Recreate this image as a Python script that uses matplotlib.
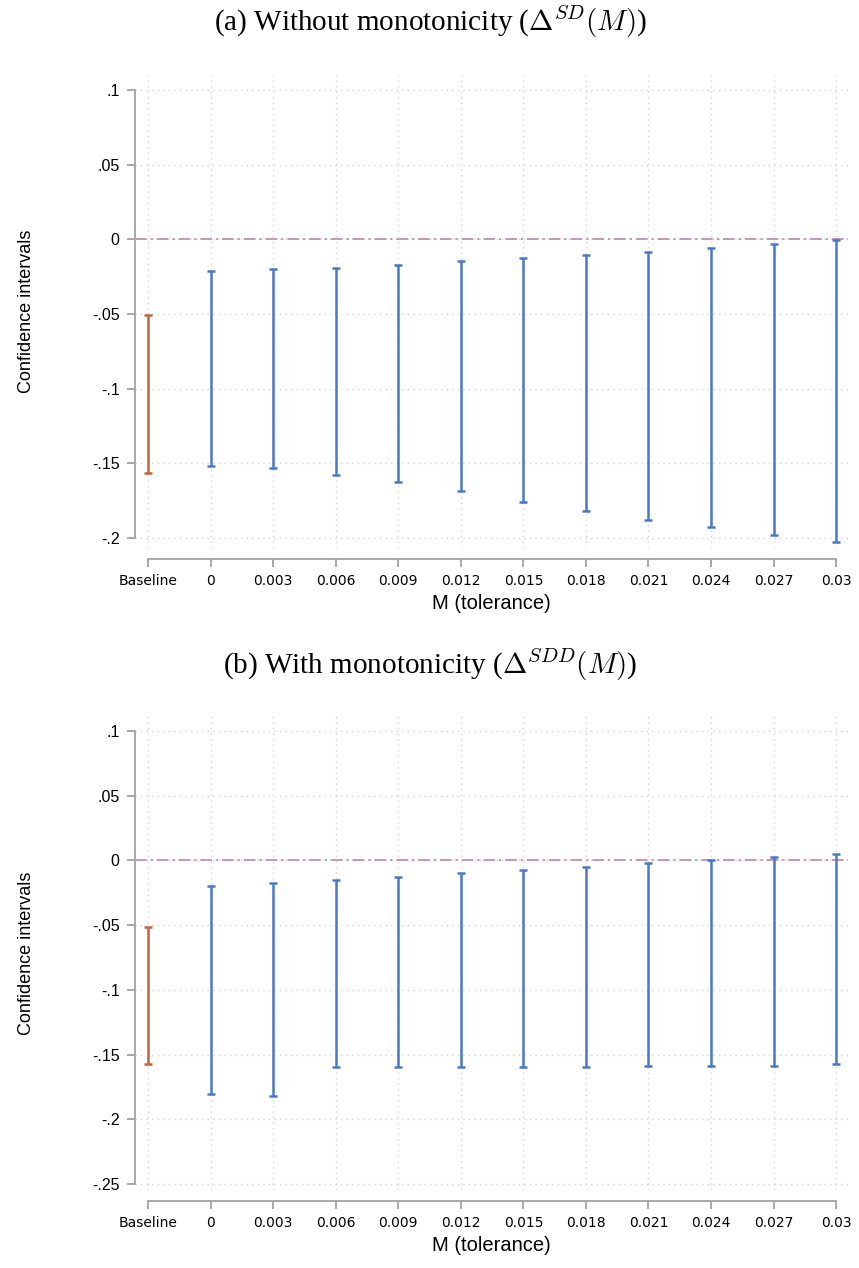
import matplotlib
matplotlib.use("Agg")
import matplotlib.pyplot as plt
import numpy as np

# ---- data ----
categories = ["Baseline", "0", "0.003", "0.006", "0.009", "0.012", "0.015",
              "0.018", "0.021", "0.024", "0.027", "0.03"]

upper_a = [-0.051, -0.0209, -0.0198, -0.0191, -0.0173, -0.0148, -0.0125,
           -0.0105, -0.0085, -0.0058, -0.0029, -0.0002]
lower_a = [-0.1565, -0.1518, -0.1529, -0.1578, -0.1627, -0.1687, -0.1756,
           -0.1818, -0.1878, -0.1927, -0.1978, -0.2027]

upper_b = [-0.051, -0.0198, -0.0172, -0.0152, -0.0124, -0.0098, -0.0074,
           -0.0049, -0.0023, 0.0003, 0.0029, 0.0052]
lower_b = [-0.1573, -0.1803, -0.1816, -0.1592, -0.1592, -0.1592, -0.1594,
           -0.1594, -0.1584, -0.1584, -0.1584, -0.1573]

yticks_a = [0.1, 0.05, 0, -0.05, -0.1, -0.15, -0.2]
yticks_b = [0.1, 0.05, 0, -0.05, -0.1, -0.15, -0.2, -0.25]
ytick_labels_a = [".1", ".05", "0", "-.05", "-.1", "-.15", "-.2"]
ytick_labels_b = [".1", ".05", "0", "-.05", "-.1", "-.15", "-.2", "-.25"]

title_a = r"(a) Without monotonicity ($\Delta^{SD}(M)$)"
title_b = r"(b) With monotonicity ($\Delta^{SDD}(M)$)"
xlabel = "M (tolerance)"
ylabel = "Confidence intervals"

# ---- style ----
plt.rcParams["mathtext.fontset"] = "cm"
SANS = ["Liberation Sans", "DejaVu Sans"]
SERIF = ["Liberation Serif", "DejaVu Serif"]
BLUE = "#4a78c8"
ORANGE = "#c0653a"
GRID = "#d4d4d4"
AXCOL = "#a8a8a8"
REF = "#c896b4"

W, H = 859, 1268
fig = plt.figure(figsize=(W / 100, H / 100), dpi=100)


def panel(rect_px, upper, lower, yticks, ylabels, ylim, title, title_y):
    l, t, r, b = rect_px
    ax = fig.add_axes([l / W, 1 - b / H, (r - l) / W, (b - t) / H])
    x = np.arange(len(categories))
    up = np.array(upper)
    lo = np.array(lower)
    mid = (up + lo) / 2
    err = (up - lo) / 2
    colors = [ORANGE] + [BLUE] * (len(categories) - 1)
    for xi, m, e, c in zip(x, mid, err, colors):
        ax.errorbar([xi], [m], yerr=[e], fmt="none", ecolor=c, elinewidth=1.8,
                    capsize=3.0, capthick=1.8, zorder=3)
    ax.axhline(0, color=REF, lw=1.4, ls=(0, (6, 2, 1.2, 2)), zorder=2)
    ax.set_xlim(-0.21, len(categories) - 1 + 0.19)
    ax.set_ylim(*ylim)
    ax.set_xticks(x)
    ax.set_xticklabels(categories, fontsize=11, family=SANS)
    ax.set_yticks(yticks)
    ax.set_yticklabels(ylabels, fontsize=11.5, family=SANS)
    ax.grid(True, color=GRID, ls=(0, (1, 3)), lw=1.0, zorder=0)
    for s in ["top", "right"]:
        ax.spines[s].set_visible(False)
    ax.spines["left"].set_color(AXCOL)
    ax.spines["left"].set_linewidth(1.4)
    ax.spines["left"].set_bounds(min(yticks), max(yticks))
    ax.spines["bottom"].set_color(AXCOL)
    ax.spines["bottom"].set_linewidth(1.4)
    ax.spines["bottom"].set_position(("outward", 8))
    ax.spines["bottom"].set_bounds(0, len(categories) - 1)
    ax.tick_params(axis="both", colors=AXCOL, length=6, width=1.4,
                   labelcolor="black", pad=5)
    ax.set_xlabel(xlabel, fontsize=14.5, family=SANS, labelpad=4)
    ax.set_ylabel(ylabel, fontsize=13, family=SANS, labelpad=41)
    fig.text(430 / W, 1 - title_y / H, title,
             ha="center", va="center", fontsize=21, family=SERIF)
    return ax


panel((135, 75, 848, 548), upper_a, lower_a, yticks_a, ytick_labels_a,
      (-0.2067, 0.11), title_a, 22)
panel((135, 716, 848, 1190), upper_b, lower_b, yticks_b, ytick_labels_b,
      (-0.2545, 0.1116), title_b, 665)

fig.savefig("out.png", dpi=100)
